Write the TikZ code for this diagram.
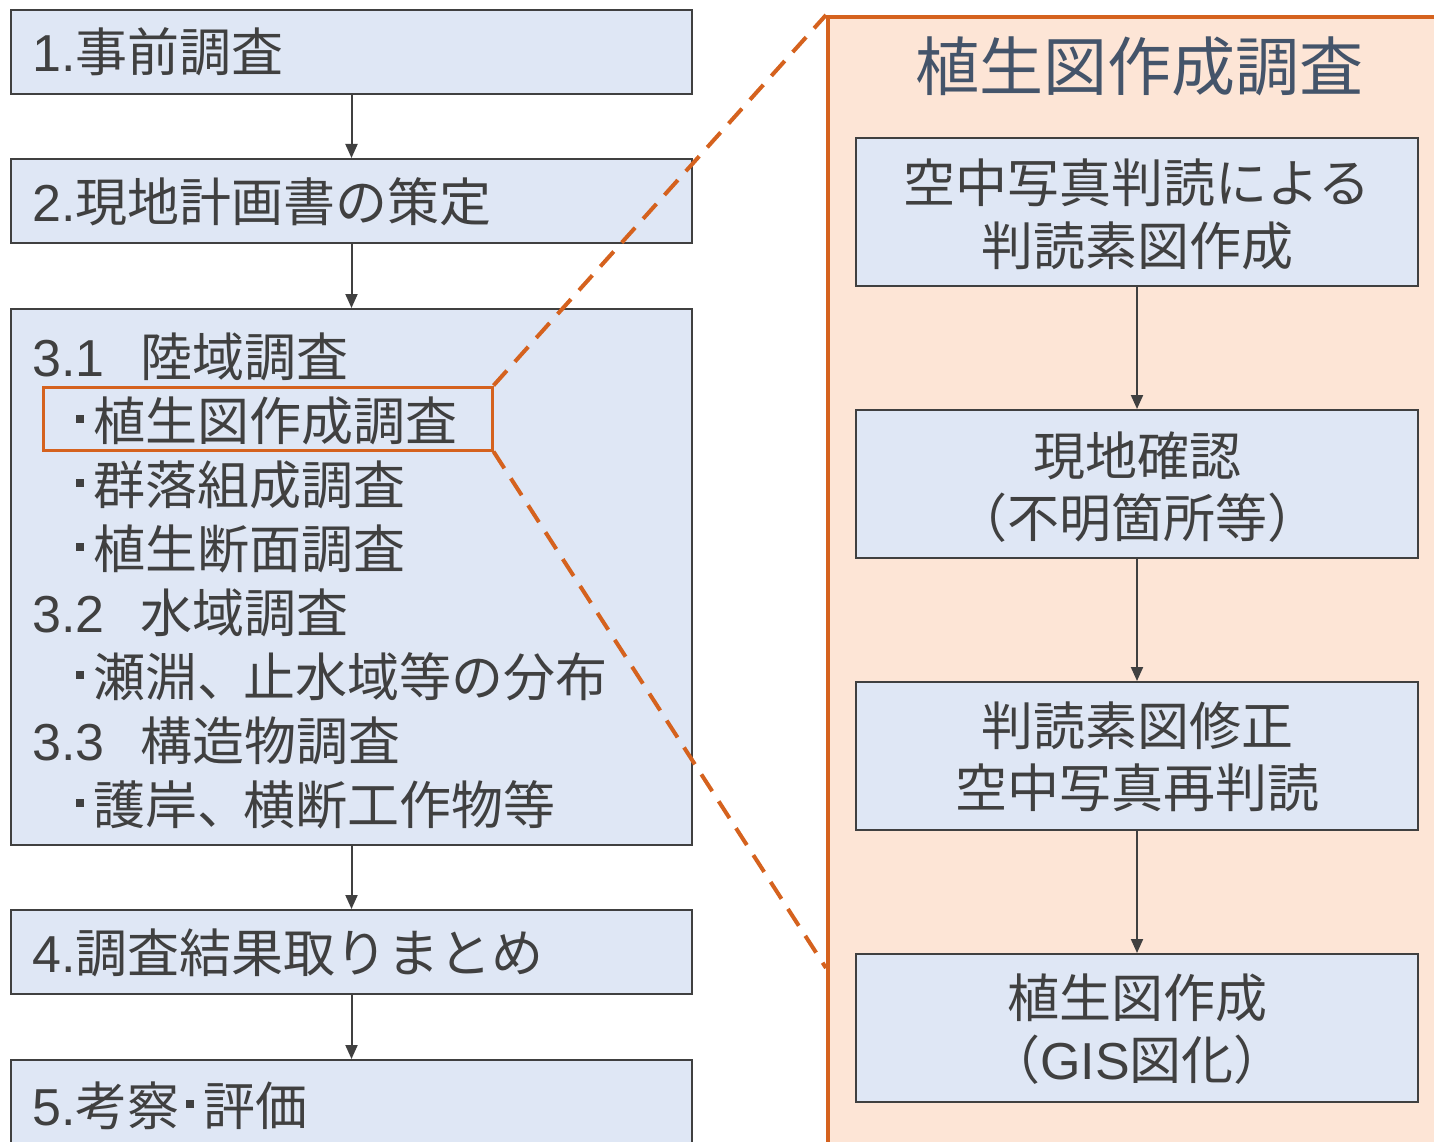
\documentclass[tikz,border=0pt]{standalone}
\usepackage{fontspec}
\setmainfont{Noto Sans CJK JP}
\newfontfamily\lat{Liberation Sans}
\usetikzlibrary{arrows.meta}
\definecolor{boxfill}{HTML}{DFE7F5}
\definecolor{ink}{HTML}{404040}
\definecolor{org}{HTML}{D5621E}
\definecolor{peach}{HTML}{FDE5D6}
\definecolor{ttl}{HTML}{44546A}
\newcommand{\bul}{\hspace*{10pt}\rule[17pt]{8pt}{8pt}\hspace*{9pt}}
\newcommand{\mbul}{\hspace*{6pt}\rule[17pt]{8pt}{8pt}\hspace*{10pt}}
\begin{document}
\begin{tikzpicture}[x=1pt,y=-1pt,
  flowbox/.style={draw=ink, line width=2pt, fill=boxfill, inner sep=0pt},
  conn/.style={draw=ink, line width=2pt, -{Triangle[length=14pt,width=12pt]}},
  txt/.style={font=\fontsize{52}{62}\selectfont, text=ink, inner sep=0pt, anchor=base west},
  ctxt/.style={font=\fontsize{52}{62}\selectfont, text=ink, inner sep=0pt, anchor=base},
  dashline/.style={draw=org, line width=4pt, dash pattern=on 20pt off 12pt},
  hlbox/.style={draw=org, line width=3pt, inner sep=0pt}]
\useasboundingbox (0,0) rectangle (1434,1142);
\clip (0,0) rectangle (1434,1142);
\fill[white] (0,0) rectangle (1434,1142);

% right panel
\node[draw=org, line width=4pt, fill=peach, inner sep=0pt, anchor=north west,
      minimum width=640pt, minimum height=1160pt] (panel) at (826,15) {};
\coordinate (pbot) at (826,968);

% left boxes
\node[flowbox, minimum width=681pt, minimum height=84pt] (b1) at (351.5,52) {};
\node[flowbox, minimum width=681pt, minimum height=84pt] (b2) at (351.5,201) {};
\node[flowbox, minimum width=681pt, minimum height=536pt] (b3) at (351.5,577) {};
\node[flowbox, minimum width=681pt, minimum height=84pt] (b4) at (351.5,952) {};
\node[flowbox, minimum width=681pt, minimum height=100pt] (b5) at (351.5,1110) {};

\draw[conn] (b1.south) -- (b2.north);
\draw[conn] (b2.south) -- (b3.north);
\draw[conn] (b3.south) -- (b4.north);
\draw[conn] (b4.south) -- (b5.north);

\node[txt] (t1) at (32,72) {{\lat 1.}事前調査};
\node[txt] (t2) at (32,221) {{\lat 2.}現地計画書の策定};
\node[txt] (t31n) at (32,376) {\lat 3.1};
\node[txt] (t31) at (140,376) {陸域調査};
\node[txt] (t31a) at (66,440) {\bul 植生図作成調査};
\node[txt] (t31b) at (66,504) {\bul 群落組成調査};
\node[txt] (t31c) at (66,568) {\bul 植生断面調査};
\node[txt] (t32n) at (32,632) {\lat 3.2};
\node[txt] (t32) at (140,632) {水域調査};
\node[txt] (t32a) at (66,696) {\bul 瀬淵、\hspace*{-6pt}止水域等の分布};
\node[txt] (t33n) at (32,760) {\lat 3.3};
\node[txt] (t33) at (140,760) {構造物調査};
\node[txt] (t33a) at (66,824) {\bul 護岸、\hspace*{-6pt}横断工作物等};
\node[txt] (t4) at (32,972) {{\lat 4.}調査結果取りまとめ};
\node[txt] (t5) at (32,1125) {{\lat 5.}考察\mbul 評価};

% highlight
\node[hlbox, minimum width=449pt, minimum height=63pt] (hl) at (267.5,418.5) {};

% right content
\node[font=\fontsize{64}{70}\selectfont, text=ttl, inner sep=0pt, anchor=base] (title) at (1139,91) {植生図作成調査};

\node[flowbox, minimum width=562pt, minimum height=148pt] (ra) at (1137,212) {};
\node[flowbox, minimum width=562pt, minimum height=148pt] (rb) at (1137,484) {};
\node[flowbox, minimum width=562pt, minimum height=148pt] (rc) at (1137,756) {};
\node[flowbox, minimum width=562pt, minimum height=148pt] (rd) at (1137,1028) {};

\draw[conn] (ra.south) -- (rb.north);
\draw[conn] (rb.south) -- (rc.north);
\draw[conn] (rc.south) -- (rd.north);

\node[ctxt] (ra1) at (1137,203) {空中写真判読による};
\node[ctxt] (ra2) at (1137,265) {判読素図作成};
\node[ctxt] (rb1) at (1137,475) {現地確認};
\node[ctxt] (rb2) at (1137,537) {（不明箇所等）};
\node[ctxt] (rc1) at (1137,745) {判読素図修正};
\node[ctxt] (rc2) at (1137,807) {空中写真再判読};
\node[ctxt] (rd1) at (1137,1017) {植生図作成};
\node[ctxt] (rd2) at (1137,1079) {（{\lat GIS}図化）};

% dashed zoom lines
\draw[dashline] (hl.north east) -- (panel.north west);
\draw[dashline] (hl.south east) -- (pbot);
\end{tikzpicture}
\end{document}
